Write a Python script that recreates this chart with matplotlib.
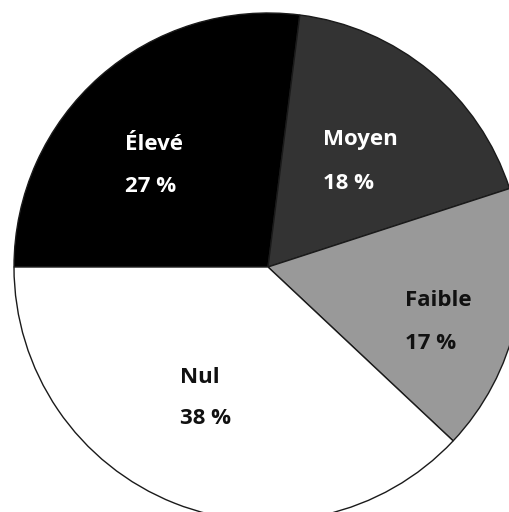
import numpy as np
import matplotlib.pyplot as plt

labels = ["Élevé", "Moyen", "Faible", "Nul"]
values = [27, 18, 17, 38]
colors = ["#000000", "#333333", "#999999", "#ffffff"]
text_colors = ["white", "white", "#111111", "#111111"]

# label positions in pixels (left edge, baseline of name, baseline of percent)
label_px = [(125, 150, 192), (323, 145, 189), (405, 306, 349), (180, 383, 424)]

W, H = 509, 512
cx, cy, r = 268, 267, 254

fig = plt.figure(figsize=(W / 100, H / 100), dpi=100)
ax = fig.add_axes([0, 0, 1, 1])
ax.pie(values, colors=colors, startangle=180, counterclock=False,
       wedgeprops=dict(edgecolor="#1a1a1a", linewidth=1.0))
ax.set_xlim(-cx / r, (W - cx) / r)
ax.set_ylim((cy - H) / r, cy / r)
ax.set_aspect("auto")
ax.axis("off")

for lab, v, tc, (px, py1, py2) in zip(labels, values, text_colors, label_px):
    x = (px - cx) / r
    ax.text(x, (cy - py1) / r, lab, color=tc, fontsize=16, fontweight="bold",
            family="Open Sans", ha="left", va="baseline")
    ax.text(x, (cy - py2) / r, f"{v} %", color=tc, fontsize=16, fontweight="bold",
            family="Open Sans", ha="left", va="baseline")

fig.savefig("out.png", dpi=100, facecolor="white")
